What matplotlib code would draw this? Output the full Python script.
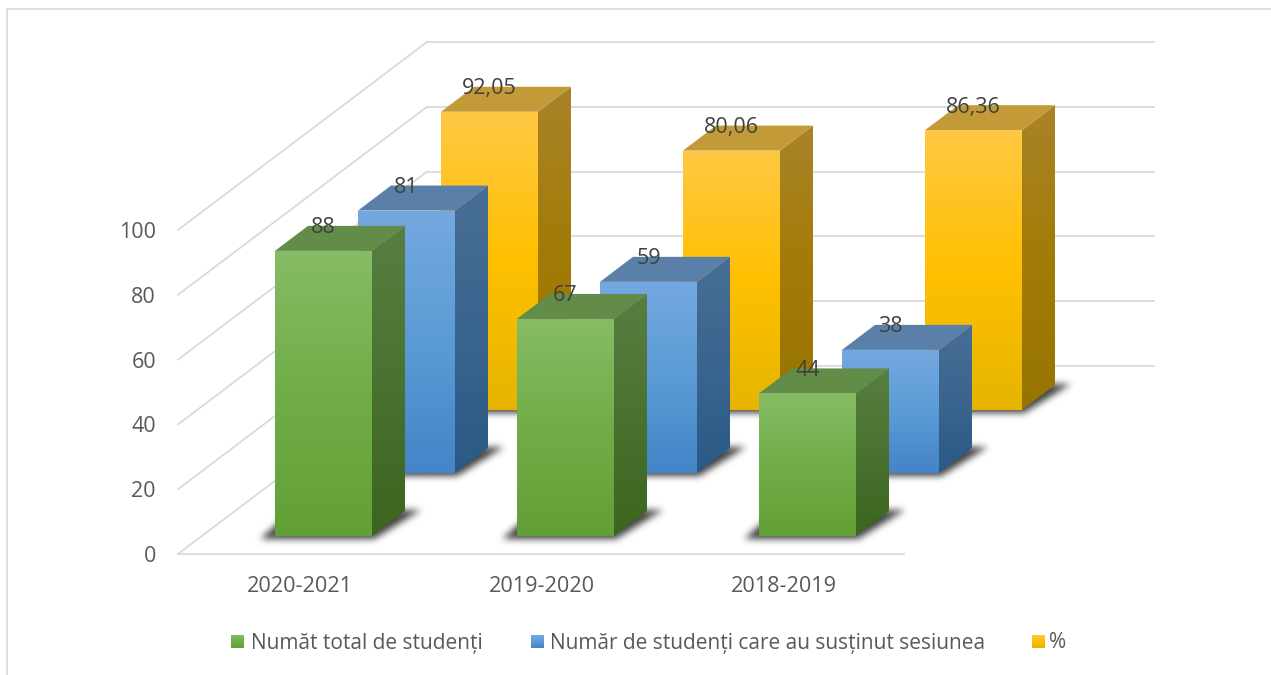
import matplotlib
matplotlib.use('Agg')
import matplotlib.pyplot as plt
import numpy as np
from matplotlib.colors import LinearSegmentedColormap
from matplotlib.patches import Polygon
from matplotlib.path import Path

plt.rcParams['font.family'] = ['Open Sans', 'DejaVu Sans']

# data
categories = ['2020-2021', '2019-2020', '2018-2019']
total_studenti = [88, 67, 44]
sustinut = [81, 59, 38]
procent = [92.05, 80.06, 86.36]
procent_labels = ['92,05', '80,06', '86,36']
series_names = ['Număt total de studenți', 'Număr de studenți care au susținut sesiunea', '%']
axis_ticks = [0, 20, 40, 60, 80, 100]

# geometry of the fake 3d box, in pixels
px = 3.24           # pixels per unit
bar_w = 97
depth_x, depth_y = 33, 25
cat_step = 242
ser_dx, ser_dy = 83, 63
x0, y0 = 275, 536   # front bottom left of first green bar

# colours: top, middle, bottom of each face
front_cols = [['#86BC66', '#70AD47', '#62A036'],
              ['#74A9E0', '#5B9BD5', '#4484C8'],
              ['#FFC844', '#FFC000', '#E6B400']]
side_cols = [['#587F42', '#4A7230', '#3C651F'],
             ['#486E95', '#3A658F', '#2A5A86'],
             ['#A98329', '#A27C06', '#967400']]
top_cols = ['#638C48', '#5A80AA', '#C29B38']

fig = plt.figure(figsize=(12.71, 6.75), dpi=100)
ax = fig.add_axes([0, 0, 1, 1])


def gradient(poly, cols, z):
    # vertical gradient clipped to a polygon
    xs = [p[0] for p in poly]
    ys = [p[1] for p in poly]
    cmap = LinearSegmentedColormap.from_list('g', cols)
    im = ax.imshow(np.linspace(0, 1, 256).reshape(-1, 1), cmap=cmap, aspect='auto',
                   extent=(min(xs), max(xs), max(ys), min(ys)), zorder=z)
    patch = Polygon(poly, closed=True, transform=ax.transData, fill=False, edgecolor='none')
    ax.add_patch(patch)
    im.set_clip_path(patch)


def blur_shadow(poly, z, sigma=3.5, strength=0.85):
    # soft floor shadow, polygon mask blurred with numpy
    xs = [p[0] for p in poly]
    ys = [p[1] for p in poly]
    pad = 12
    left, right = int(min(xs)) - pad, int(max(xs)) + pad
    up, down = int(min(ys)) - pad, int(max(ys)) + pad
    gx, gy = np.meshgrid(np.arange(left, right) + 0.5, np.arange(up, down) + 0.5)
    pts = np.column_stack([gx.ravel(), gy.ravel()])
    mask = Path(poly).contains_points(pts).reshape(gx.shape).astype(float)
    k = np.exp(-0.5 * (np.arange(-9, 10) / sigma) ** 2)
    k = k / k.sum()
    mask = np.apply_along_axis(lambda r: np.convolve(r, k, mode='same'), 0, mask)
    mask = np.apply_along_axis(lambda r: np.convolve(r, k, mode='same'), 1, mask)
    rgba = np.zeros(mask.shape + (4,))
    rgba[..., :3] = 0.13
    rgba[..., 3] = mask * strength
    ax.imshow(rgba, aspect='auto', extent=(left, right, down, up), zorder=z, interpolation='bilinear')


def draw_bar(x, y, value, s, z):
    h = value * px
    blur_shadow([(x - 15, y + 3), (x + bar_w + 2, y + 3),
                 (x + bar_w + depth_x + 16, y - depth_y - 1), (x + depth_x - 15, y - depth_y - 1)], z)
    front = [(x, y), (x + bar_w, y), (x + bar_w, y - h), (x, y - h)]
    side = [(x + bar_w, y), (x + bar_w + depth_x, y - depth_y),
            (x + bar_w + depth_x, y - h - depth_y), (x + bar_w, y - h)]
    top = [(x, y - h), (x + bar_w, y - h), (x + bar_w + depth_x, y - h - depth_y), (x + depth_x, y - h - depth_y)]
    gradient(side, side_cols[s], z + 0.1)
    ax.add_patch(Polygon(top, closed=True, fc=top_cols[s], ec='none', zorder=z + 0.2))
    gradient(front, front_cols[s], z + 0.3)


# back wall and floor lines
for t in axis_ticks:
    gy = 366 - t * px
    ax.plot([427, 1154], [gy, gy], color='#dadada', lw=1.3, zorder=1)
    ax.plot([178, 427], [554 - t * px, gy], color='#dadada', lw=1.3, zorder=1)
    ax.text(156, 556.5 - t * px, str(t), ha='right', va='center', fontsize=15.5, color='#595959', zorder=20)
ax.plot([178, 904], [554, 554], color='#dadada', lw=1.3, zorder=1)

# bars, back series first
all_series = [total_studenti, sustinut, procent]
for s in [2, 1, 0]:
    for c, val in enumerate(all_series[s]):
        x = x0 + c * cat_step + s * ser_dx
        y = y0 - s * ser_dy
        draw_bar(x, y, val, s, 5 + (2 - s) * 3)
        lab = procent_labels[c] if s == 2 else str(val)
        ax.text(x + bar_w / 2, y - val * px - 23, lab, ha='center', va='center',
                fontsize=15.5, color='#404040', zorder=20)

for c, name in enumerate(categories):
    ax.text(x0 + bar_w / 2 + c * cat_step - 24, 586.5, name, ha='center', va='center',
            fontsize=15.6, color='#595959', zorder=20)

# legend by hand
swatch_x = [231, 531, 1032]
text_x = [251, 550, 1049]
for s, name in enumerate(series_names):
    gradient([(swatch_x[s], 635), (swatch_x[s] + 13, 635), (swatch_x[s] + 13, 648), (swatch_x[s], 648)],
             front_cols[s], 20)
    ax.text(text_x[s], 643, name, ha='left', va='center', fontsize=15, color='#595959', zorder=20)

# chart border, only top and left show
ax.plot([7, 1271], [9, 9], color='#d9d9d9', lw=1.2, zorder=1)
ax.plot([7, 7], [9, 675], color='#d9d9d9', lw=1.2, zorder=1)

ax.set_xlim(0, 1271)
ax.set_ylim(675, 0)
ax.axis('off')

plt.savefig('out.png', dpi=100)
